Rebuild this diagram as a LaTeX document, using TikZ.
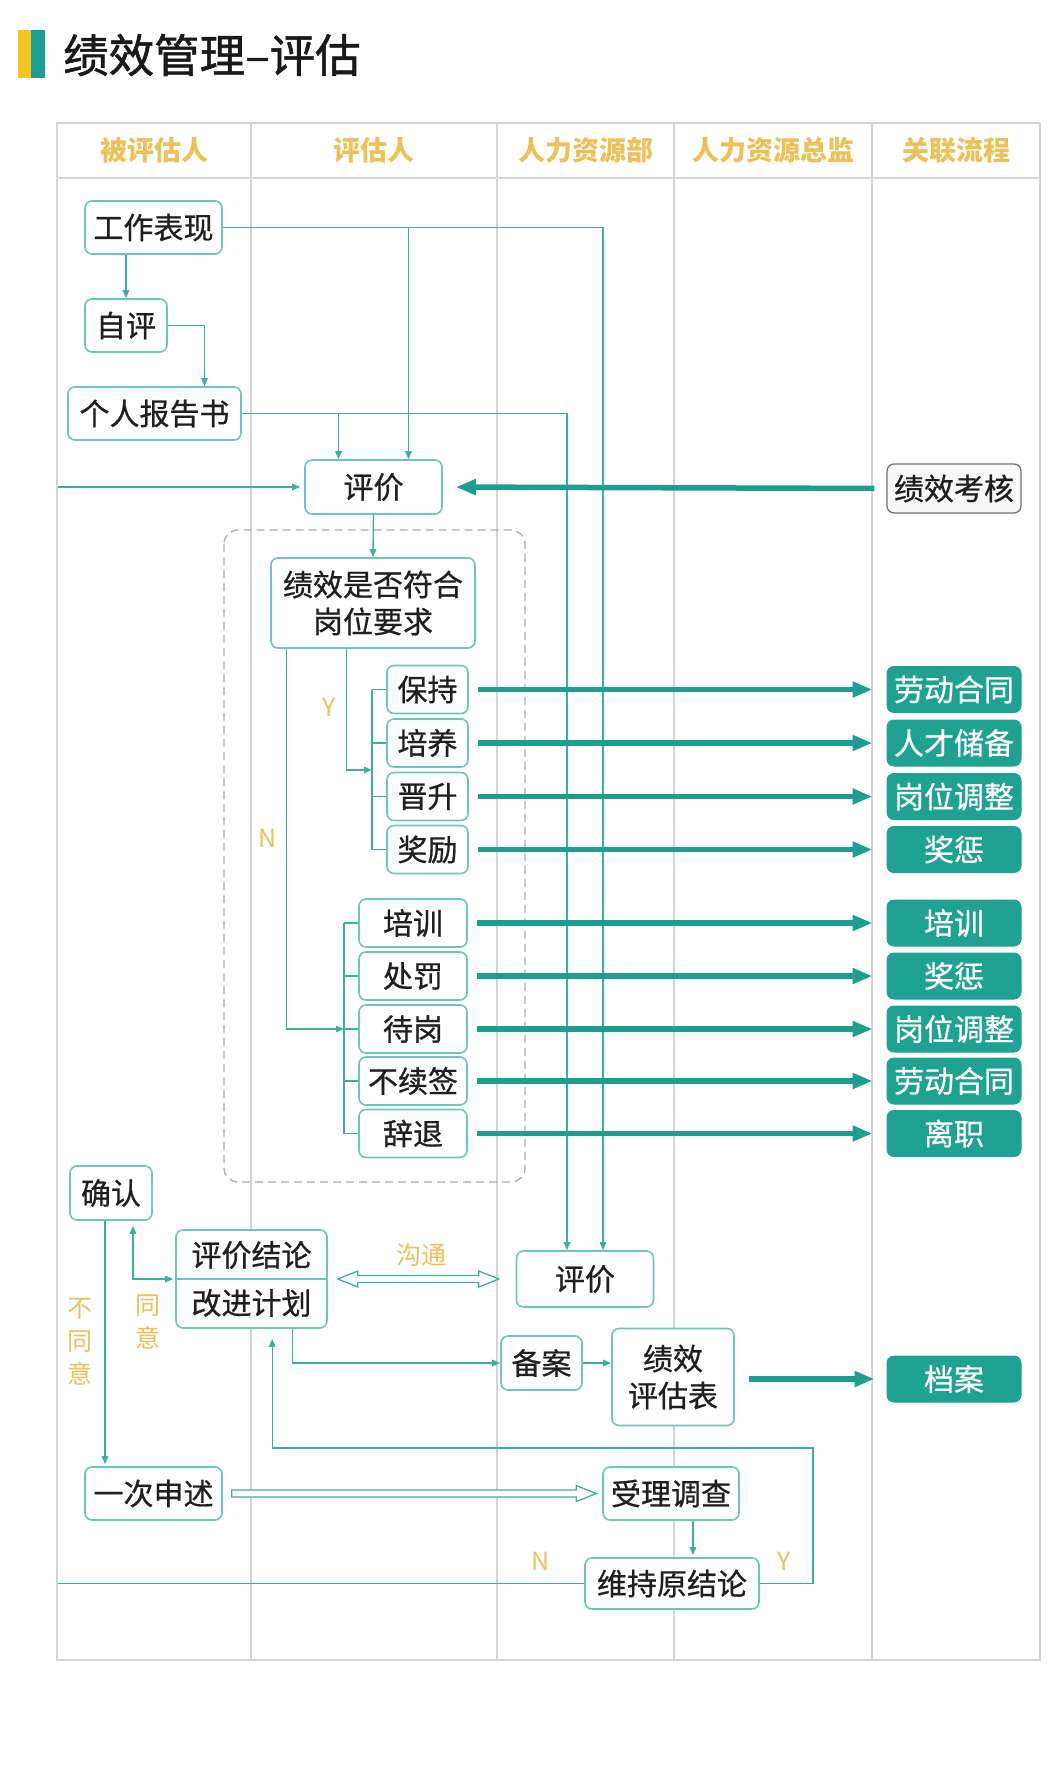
\documentclass[tikz,border=0pt]{standalone}
\usepackage{fontspec}
\newfontfamily\cjk{Noto Sans CJK SC}
\newfontfamily\cjkm[FakeBold=0.7]{Noto Sans CJK SC}
\newfontfamily\cjkt[FakeBold=1.2]{Noto Sans CJK SC}
\usetikzlibrary{arrows.meta,calc}
\definecolor{boxc}{HTML}{6EC6BA}
\definecolor{linec}{HTML}{3FAEA2}
\definecolor{thickc}{HTML}{1E9E8F}
\definecolor{fillc}{HTML}{20A292}
\definecolor{goldc}{HTML}{EDC15A}
\definecolor{gridc}{HTML}{D4D4D4}
\definecolor{dashc}{HTML}{ABABAB}
\definecolor{bary}{HTML}{F3C522}
\definecolor{barg}{HTML}{1BA08F}
\tikzset{
  box/.style={draw=boxc, line width=1.6pt, rounded corners=7pt, fill=white,
    font=\cjkm\fontsize{30}{37}\selectfont, text=black!88, inner sep=0pt, align=center},
  sbox/.style={box, minimum width=81pt, minimum height=48pt},
  nbox/.style={box, minimum width=108pt, minimum height=48pt},
  fbox/.style={fill=fillc, draw=fillc, line width=1pt, rounded corners=7pt, text=white,
    font=\cjkm\fontsize{30}{37}\selectfont, minimum width=134pt, minimum height=46pt, inner sep=0pt},
  txt/.style={font=\cjkm\fontsize{30}{37}\selectfont, text=black!88, inner sep=0pt},
  lbl/.style={text=goldc, font=\cjk\fontsize{25}{33}\selectfont, inner sep=0pt, align=center},
  hdr/.style={text=goldc, font=\cjk\bfseries\fontsize{27}{30}\selectfont, inner sep=0pt},
  grid/.style={draw=gridc, line width=1.5pt},
  line/.style={draw=linec, line width=1.4pt},
  conn/.style={line, -{Triangle[length=8pt,width=6.5pt]}},
  conn2/.style={line, {Triangle[length=8pt,width=6.5pt]}-{Triangle[length=8pt,width=6.5pt]}},
  thk/.style={draw=thickc, line width=5.5pt, -{Triangle[length=20pt,width=15pt]}},
  hol/.style={draw=linec, line width=1.3pt, fill=white, line join=miter},
}
\begin{document}
\begin{tikzpicture}[x=1pt,y=-1pt]
\useasboundingbox[fill=white] (0,0) rectangle (1055,1783);

% title
\fill[bary] (18,30) rectangle (31,78);
\fill[barg] (31,30) rectangle (45,78);
\node[anchor=west, font=\cjkt\fontsize{45.5}{50}\selectfont, text=black!90, inner sep=0pt] (title) at (63,55) {绩效管理–评估};

% table
\draw[grid] (57,123) rectangle (1040,1660);
\draw[grid] (57,178) -- (1040,178);
\foreach \x in {251,497,674,872} \draw[grid] (\x,123) -- (\x,1660);
\node[hdr] (h1) at (154,150) {被评估人};
\node[hdr] (h2) at (374,150) {评估人};
\node[hdr] (h3) at (585.5,150) {人力资源部};
\node[hdr] (h4) at (773,150) {人力资源总监};
\node[hdr] (h5) at (956,150) {关联流程};

% dashed group
\draw[draw=dashc, line width=1.3pt, dash pattern=on 8pt off 5pt, rounded corners=14pt] (224,530) rectangle (525,1182);

% nodes
\node[box, minimum width=137pt, minimum height=53pt] (wk) at (153.5,227.5) {工作表现};
\node[box, minimum width=82pt, minimum height=53pt] (zp) at (126,325.5) {自评};
\node[box, minimum width=173pt, minimum height=53pt] (grbg) at (154.5,413.5) {个人报告书};
\node[box, minimum width=137pt, minimum height=54pt] (pj1) at (373.5,487) {评价};
\node[box, draw=black!55, line width=1.3pt, fill=gray!5, minimum width=134pt, minimum height=49pt] (jxkh) at (954,488.5) {绩效考核};
\node[box, minimum width=204pt, minimum height=90pt] (q) at (373,603) {绩效是否符合\\岗位要求};

\node[sbox] (bc) at (427.5,689.5) {保持};
\node[sbox] (py) at (427.5,743) {培养};
\node[sbox] (js) at (427.5,796.5) {晋升};
\node[sbox] (jl) at (427.5,849.5) {奖励};

\node[nbox] (px) at (413,923) {培训};
\node[nbox] (cf) at (413,976) {处罚};
\node[nbox] (dg) at (413,1029) {待岗};
\node[nbox] (bxq) at (413,1081) {不续签};
\node[nbox] (ct) at (413,1133.5) {辞退};

\node[fbox] (r1) at (954,689.5) {劳动合同};
\node[fbox] (r2) at (954,743) {人才储备};
\node[fbox] (r3) at (954,796.5) {岗位调整};
\node[fbox] (r4) at (954,849.5) {奖惩};
\node[fbox] (r5) at (954,923) {培训};
\node[fbox] (r6) at (954,976) {奖惩};
\node[fbox] (r7) at (954,1029) {岗位调整};
\node[fbox] (r8) at (954,1081) {劳动合同};
\node[fbox] (r9) at (954,1133.5) {离职};

\node[box, minimum width=82pt, minimum height=54pt] (qr) at (111,1193) {确认};
\node[box, minimum width=151pt, minimum height=98pt] (conc) at (251.5,1279) {};
\draw[draw=boxc, line width=1.6pt] (conc.west) -- (conc.east);
\node[txt] (concA) at (251.5,1255) {评价结论};
\node[txt] (concB) at (251.5,1303) {改进计划};
\node[box, minimum width=137pt, minimum height=56pt] (pj2) at (585,1279) {评价};
\node[box, minimum width=81pt, minimum height=54pt] (ba) at (541.5,1363) {备案};
\node[box, minimum width=122pt, minimum height=97pt] (jxpgb) at (673,1377) {绩效\\评估表};
\node[fbox] (da) at (954,1379) {档案};
\node[box, minimum width=137pt, minimum height=53pt] (ycss) at (153.5,1493.5) {一次申述};
\node[box, minimum width=136pt, minimum height=53pt] (sldc) at (671,1493.5) {受理调查};
\node[box, minimum width=174pt, minimum height=51pt] (cyjl) at (672,1583.5) {维持原结论};

% top connectors
\draw[conn] (wk.south -| zp.north) -- (zp.north);
\draw[conn] (zp.east) -| ($(grbg.north)+(50,0)$);
\draw[conn] (wk.east) -| ($(pj2.north)+(18,0)$);
\draw[conn] ($(wk.east -| pj1.north)+(35,0)$) -- ($(pj1.north)+(35,0)$);
\draw[conn] (grbg.east) -| ($(pj2.north)+(-18,0)$);
\draw[conn] ($(grbg.east -| pj1.north)+(-35,0)$) -- ($(pj1.north)+(-35,0)$);
\draw[conn] (pj1.south) -- (q.north);
\draw[thk, shorten <=12pt, shorten >=13pt] (jxkh.west) -- (pj1.east);

% Y branch
\coordinate (ybus) at (372,770);
\draw[line] (bc.west -| ybus) -- (jl.west -| ybus);
\foreach \n in {bc,py,js,jl} \draw[line] (\n.west -| ybus) -- (\n.west);
\draw[conn] ($(q.south west)+(76,0)$) |- (ybus);
\node[lbl] (ly) at (329,707) {Y};

% N branch
\coordinate (nbus) at (344,1029);
\draw[line] (px.west -| nbus) -- (ct.west -| nbus);
\foreach \n in {px,cf,dg,bxq,ct} \draw[line] (\n.west -| nbus) -- (\n.west);
\draw[conn] ($(q.south west)+(16,0)$) |- (nbus);
\node[lbl] (ln) at (268,838) {N};

% thick arrows to related processes
\foreach \a/\b in {bc/r1,py/r2,js/r3,jl/r4,px/r5,cf/r6,dg/r7,bxq/r8,ct/r9}
  \draw[thk, shorten <=9pt, shorten >=14pt] (\a.east) -- (\b.west);

% bottom connectors
\coordinate (a1) at ($(qr.south)+(-6,0)$);
\draw[conn, shorten >=2pt] (a1) -- (a1 |- ycss.north);
\node[lbl] (lbty) at (80,1342) {不\\同\\意};
\coordinate (a2) at ($(qr.south)+(22,0)$);
\draw[conn2, shorten <=5pt, shorten >=2pt] (a2) |- (conc.west);
\node[lbl] (lty) at (148,1322) {同\\意};

\draw[hol] ($(conc.east)+(10,0)$) -- ++(20,-8) -- ++(0,4.5) -- ($(pj2.west)+(-37,-3.5)$) -- ++(0,-4.5) -- ++(20,8) -- ++(-20,8) -- ++(0,-4.5) -- ($(conc.east)+(30,3.5)$) -- ++(0,4.5) -- cycle;
\node[lbl] (lgt) at (421,1255) {沟通};

\draw[conn] ($(conc.south west)+(117,0)$) |- (ba.west);
\draw[conn] (ba.east) -- (ba.east -| jxpgb.west);
\draw[thk, shorten <=14pt, shorten >=12pt] (da.west -| jxpgb.east) -- (da.west);

\draw[hol] ($(ycss.east)+(9,-3.5)$) -- ($(sldc.west)+(-26,-3.5)$) -- ++(0,-4.5) -- ++(20,8) -- ++(-20,8) -- ++(0,-4.5) -- ($(ycss.east)+(9,3.5)$) -- cycle;

\coordinate (a3) at ($(sldc.south)+(22,0)$);
\draw[conn, shorten >=2pt] (a3) -- (a3 |- cyjl.north);

\coordinate (yloop) at (813,1448);
\draw[conn, shorten >=10pt] (cyjl.east) -| (yloop) -| ($(conc.south west)+(97,0)$);
\node[lbl] (lyy) at (784,1561) {Y};

\coordinate (nl) at (57,1583);
\draw[conn, shorten >=4pt] (cyjl.west) -- (cyjl.west -| nl) -- (pj1.west -| nl) -- (pj1.west);
\node[lbl] (lnn) at (541,1561) {N};

% left border over the return line
\draw[grid] (57,123) -- (57,1660);
\end{tikzpicture}
\end{document}
